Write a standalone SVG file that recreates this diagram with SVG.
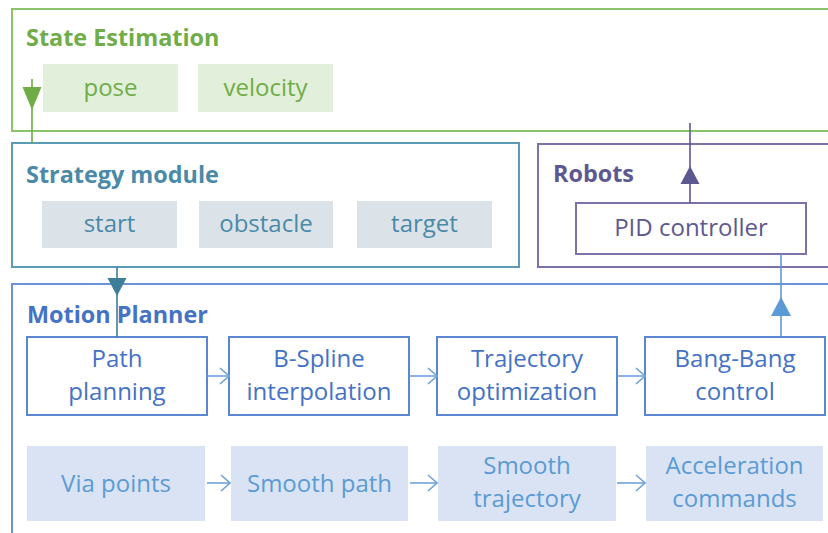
<svg xmlns="http://www.w3.org/2000/svg" width="828" height="533" viewBox="0 0 828 533">
<style>
text{font-family:"Open Sans","Noto Sans",sans-serif;font-size:24px}
.title{font-weight:bold;font-size:23.4px}
.c{text-anchor:middle}
.frame{fill:none;stroke-width:2}
.proc{fill:#fff;stroke:#5a87d1;stroke-width:2}
.proctxt{fill:#4472c4}
.data{fill:#dae3f3}
.datatxt{fill:#5b9bd5}
.chev{fill:none;stroke:#6fa3da;stroke-width:1.6}
</style>
<defs>
<marker id="chev" markerWidth="11" markerHeight="18" refX="10" refY="9" orient="auto" markerUnits="userSpaceOnUse">
<path d="M1,1 L10,9 L1,17" fill="none" stroke="#6fa3da" stroke-width="1.6"/>
</marker>
</defs>
<rect width="828" height="533" fill="#fff"/>

<g id="state-estimation">
<rect class="frame" x="12" y="9" width="830" height="122" stroke="#8cc36a"/>
<text class="title" x="26" y="46" fill="#70ad47">State Estimation</text>
<rect x="43" y="64" width="135" height="48" fill="#e2efda"/>
<text class="c" x="110.5" y="96" fill="#70ad47">pose</text>
<rect x="198" y="64" width="135" height="48" fill="#e2efda"/>
<text class="c" x="265.5" y="96" fill="#70ad47">velocity</text>
</g>

<g id="strategy-module">
<rect class="frame" x="12" y="143" width="507" height="124" stroke="#5b9bb5"/>
<text class="title" x="26" y="183" fill="#4a8aa8">Strategy module</text>
<rect x="42" y="201" width="135" height="47" fill="#dbe3e8"/>
<text class="c" x="109.5" y="232" fill="#4a8aa8">start</text>
<rect x="199" y="201" width="134" height="47" fill="#dbe3e8"/>
<text class="c" x="266" y="232" fill="#4a8aa8">obstacle</text>
<rect x="357" y="201" width="135" height="47" fill="#dbe3e8"/>
<text class="c" x="424.5" y="232" fill="#4a8aa8">target</text>
</g>

<g id="robots">
<rect class="frame" x="538" y="144" width="300" height="123" stroke="#7b72a8"/>
<text class="title" x="553" y="182" fill="#5e5891">Robots</text>
<rect x="576" y="203" width="230" height="51" fill="#fff" stroke="#7b72a8" stroke-width="2"/>
<text class="c" x="691" y="236" fill="#5e5891">PID controller</text>
</g>

<g id="motion-planner">
<rect class="frame" x="12" y="284" width="830" height="260" stroke="#6b93d6"/>
<text class="title" x="27" y="323" fill="#4472c4">Motion Planner</text>
</g>

<g id="path-planning">
<rect class="proc" x="27" y="337" width="180" height="78"/>
<text class="c proctxt" x="117" y="367">Path</text>
<text class="c proctxt" x="117" y="400">planning</text>
</g>
<g id="b-spline">
<rect class="proc" x="229" y="337" width="180" height="78"/>
<text class="c proctxt" x="319" y="367">B-Spline</text>
<text class="c proctxt" x="319" y="400">interpolation</text>
</g>
<g id="trajectory-optimization">
<rect class="proc" x="437" y="337" width="180" height="78"/>
<text class="c proctxt" x="527" y="367">Trajectory</text>
<text class="c proctxt" x="527" y="400">optimization</text>
</g>
<g id="bang-bang">
<rect class="proc" x="645" y="337" width="180" height="78"/>
<text class="c proctxt" x="735" y="367">Bang-Bang</text>
<text class="c proctxt" x="735" y="400">control</text>
</g>

<g id="via-points">
<rect class="data" x="27" y="446" width="178" height="75"/>
<text class="c datatxt" x="116" y="492">Via points</text>
</g>
<g id="smooth-path">
<rect class="data" x="231" y="446" width="177" height="75"/>
<text class="c datatxt" x="319.5" y="492">Smooth path</text>
</g>
<g id="smooth-trajectory">
<rect class="data" x="438" y="446" width="178" height="75"/>
<text class="c datatxt" x="527" y="474">Smooth</text>
<text class="c datatxt" x="527" y="507">trajectory</text>
</g>
<g id="acceleration-commands">
<rect class="data" x="646" y="446" width="177" height="75"/>
<text class="c datatxt" x="734.5" y="474">Acceleration</text>
<text class="c datatxt" x="734.5" y="507">commands</text>
</g>

<g id="connectors">
<line x1="32" y1="79" x2="32" y2="143" stroke="#70ad47" stroke-width="1.6"/>
<path d="M22.5,87 L41.5,87 L32,110 Z" fill="#70ad47"/>
<line x1="117" y1="267" x2="117" y2="337" stroke="#3d7f99" stroke-width="1.6"/>
<path d="M107.5,278 L126.5,278 L117,296 Z" fill="#3d7f99"/>
<line x1="690" y1="123" x2="690" y2="203" stroke="#5e5891" stroke-width="1.6"/>
<path d="M680.5,184 L699.5,184 L690,166 Z" fill="#5e5891"/>
<line x1="781" y1="254" x2="781" y2="337" stroke="#5b9bd5" stroke-width="1.6"/>
<path d="M771,316 L791,316 L781,297 Z" fill="#5b9bd5"/>
<line class="chev" x1="207" y1="376" x2="229" y2="376" marker-end="url(#chev)"/>
<line class="chev" x1="409" y1="376" x2="437" y2="376" marker-end="url(#chev)"/>
<line class="chev" x1="617" y1="376" x2="645" y2="376" marker-end="url(#chev)"/>
<line class="chev" x1="207" y1="483" x2="230" y2="483" marker-end="url(#chev)"/>
<line class="chev" x1="410" y1="483" x2="437" y2="483" marker-end="url(#chev)"/>
<line class="chev" x1="617" y1="483" x2="645" y2="483" marker-end="url(#chev)"/>
</g>
</svg>
